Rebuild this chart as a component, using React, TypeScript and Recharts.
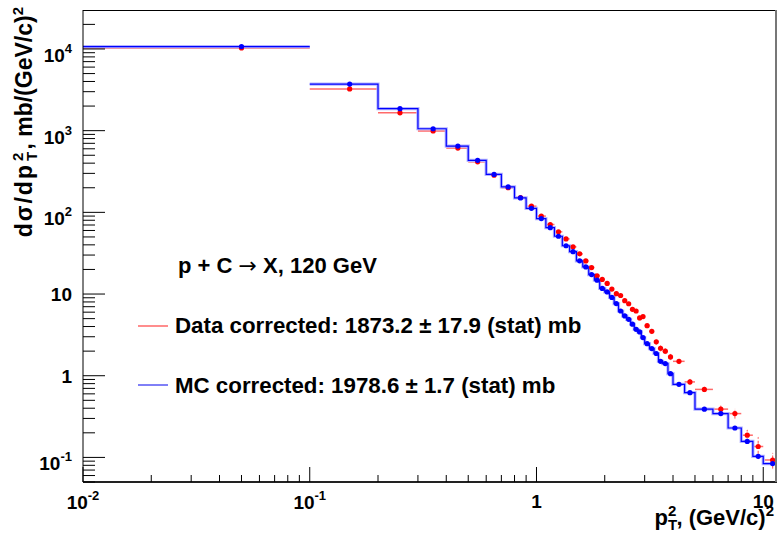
import React from 'react';
import { ComposedChart, Line, Scatter, XAxis, YAxis, ErrorBar } from 'recharts';

// ---- data ----
const binEdges = [
  0, 0.1, 0.2, 0.3, 0.4, 0.5, 0.6, 0.7, 0.8, 0.9, 1.0, 1.1, 1.2, 1.3, 1.4, 1.5, 1.6, 1.7, 1.8, 1.9,
  2.0, 2.1, 2.2, 2.3, 2.4, 2.5, 2.6, 2.7, 2.8, 2.9, 3.0, 3.15, 3.3, 3.45, 3.6, 3.8, 4.0, 4.5, 5, 6,
  7, 8, 9, 10, 12,
];
const mcValues = [
  10700, 3720, 1857, 1056, 647, 433, 291, 205, 150, 112, 84, 65, 51, 39, 33, 25.5, 21.5, 17.3, 14.8,
  11.7, 10.6, 9.1, 7.65, 6.2, 5.4, 4.9, 4.27, 3.7, 3.44, 2.93, 2.47, 2.15, 1.87, 1.5, 1.41, 1.06,
  0.785, 0.62, 0.39, 0.344, 0.229, 0.157, 0.103, 0.084,
];
const dataValues = [
  10300, 3240, 1655, 990, 612, 415, 285, 200, 152, 119, 90, 71, 57.7, 47.3, 37.8, 31, 25.4, 21.1,
  16.7, 15.1, 13.5, 11.5, 10.1, 9.6, 8.3, 7.6, 6.5, 6.2, 5.1, 5.3, 4.1, 3.5, 2.6, 2.17, 2.0, 1.7,
  1.5, 0.84, 0.68, 0.39, 0.344, 0.187, 0.136, 0.093,
];
const dataErrors = [
  60, 30, 20, 13, 9, 7, 5, 4, 3.3, 2.8, 2.3, 1.9, 1.6, 1.4, 1.2, 1.05, 0.9, 0.8, 0.7, 0.65, 0.6,
  0.55, 0.5, 0.46, 0.42, 0.39, 0.36, 0.34, 0.31, 0.3, 0.25, 0.22, 0.19, 0.17, 0.15, 0.14, 0.1, 0.07,
  0.05, 0.04, 0.045, 0.03, 0.04, 0.02,
];
const xMajorTicks = [0.01, 0.1, 1, 10];
const yMajorTicks = [0.1, 1, 10, 100, 1000, 10000];
const minorSteps = [2, 3, 4, 5, 6, 7, 8, 9];
const xDomain: [number, number] = [0.01, 11.5];
const yDomain: [number, number] = [0.05, 30000];

const titlePre = 'p + C ';
const titleArrow = '\u2192';
const titlePost = ' X, 120 GeV';
const dataLabel = 'Data corrected: 1873.2 \u00b1 17.9 (stat) mb';
const mcLabel = 'MC corrected: 1978.6 \u00b1 1.7 (stat) mb';

// ---- derived tables ----
const clampX = (v: number) => Math.min(Math.max(v, xDomain[0]), xDomain[1]);

const xTicks: number[] = [];
xMajorTicks.forEach((m, i) => {
  xTicks.push(m);
  if (i < xMajorTicks.length - 1) minorSteps.forEach((s) => xTicks.push(m * s));
});
const yTicks: number[] = [0.05, 0.06, 0.07, 0.08, 0.09];
yMajorTicks.forEach((m) => {
  yTicks.push(m);
  minorSteps.forEach((s) => {
    if (m * s < yDomain[1]) yTicks.push(m * s);
  });
});

// step histogram for MC (no vertical joining after first bin)
const histData: { x: number; mc: number | null }[] = [];
mcValues.forEach((v, i) => {
  histData.push({ x: clampX(binEdges[i]), mc: v });
  if (i === 0) {
    histData.push({ x: clampX(binEdges[1]), mc: v });
    histData.push({ x: clampX(binEdges[1]), mc: null });
  }
});
histData.push({ x: clampX(binEdges[binEdges.length - 1]), mc: mcValues[mcValues.length - 1] });

const centers = mcValues.map((_, i) => (binEdges[i] + binEdges[i + 1]) / 2);
const mcPoints = mcValues.map((v, i) => ({ x: centers[i], y: v }));
const dataPoints = dataValues.map((v, i) => ({
  x: centers[i],
  y: v,
  xerr: [centers[i] - clampX(binEdges[i]), clampX(binEdges[i + 1]) - centers[i]],
  yerr: dataErrors[i],
}));

// ---- layout constants ----
const W = 780;
const H = 535;
const PL = 83;
const PT = 10;
const PR = 777;
const PB = 482;
const FONT = "'Liberation Sans', Arial, Helvetica, sans-serif";

const isMajor = (v: number) => Math.abs(Math.log10(v) - Math.round(Math.log10(v))) < 1e-6;

function PowLabel({ x, y, e, anchor }: { x: number; y: number; e: number; anchor: string }) {
  if (e === 0 || e === 1) {
    return (
      <text x={x} y={y + 7} textAnchor={anchor} fontFamily={FONT} fontWeight="bold" fontSize={19} fill="#000">
        {e === 0 ? '1' : '10'}
      </text>
    );
  }
  return (
    <text x={x} y={y + 13} textAnchor={anchor} fontFamily={FONT} fontWeight="bold" fontSize={19} fill="#000">
      <tspan>10</tspan>
      <tspan dy={-9} fontSize={13}>{String(e)}</tspan>
    </text>
  );
}

function YTick(props: any) {
  const { y, payload } = props;
  const v = payload.value;
  const major = isMajor(v);
  const e = Math.round(Math.log10(v));
  return (
    <g>
      <line x1={PL} x2={PL + (major ? 22 : 12)} y1={y} y2={y} stroke="#000" strokeWidth={1} />
      {major && <PowLabel x={72} y={y} e={e} anchor="end" />}
    </g>
  );
}

function XTick(props: any) {
  const { x, payload } = props;
  const v = payload.value;
  const major = isMajor(v);
  const e = Math.round(Math.log10(v));
  return (
    <g>
      <line x1={x} x2={x} y1={PB} y2={PB - (major ? 15 : 7)} stroke="#000" strokeWidth={1} />
      {major && <PowLabel x={x} y={e === 0 || e === 1 ? 501 : 496} e={e} anchor="middle" />}
    </g>
  );
}

const RedDot = (p: any) => <circle cx={p.cx} cy={p.cy} r={2.6} fill="#ff0000" />;
const BlueDot = (p: any) => <circle cx={p.cx} cy={p.cy} r={2.6} fill="#0000ff" />;

export default function App() {
  return (
    <div style={{ position: 'absolute', left: 0, top: 0, width: W, height: H, background: '#fff' }}>
      <ComposedChart width={W} height={H} margin={{ top: PT, right: W - PR, left: 0, bottom: 0 }}>
        <XAxis
          dataKey="x"
          type="number"
          scale="log"
          domain={xDomain}
          allowDataOverflow
          ticks={xTicks}
          interval={0}
          height={H - PB}
          tickLine={false}
          axisLine={{ stroke: '#222', strokeWidth: 2 }}
          tick={<XTick />}
        />
        <YAxis
          type="number"
          scale="log"
          domain={yDomain}
          allowDataOverflow
          ticks={yTicks}
          interval={0}
          width={PL}
          tickLine={false}
          axisLine={{ stroke: '#000', strokeWidth: 1 }}
          tick={<YTick />}
        />
        <Scatter data={dataPoints} dataKey="y" shape={RedDot} isAnimationActive={false}>
          <ErrorBar dataKey="xerr" direction="x" width={0} stroke="#ff6a6a" strokeWidth={1.5} />
          <ErrorBar dataKey="yerr" direction="y" width={0} stroke="#ff6a6a" strokeWidth={1.2} strokeDasharray="3 2" />
        </Scatter>
        <Line
          data={histData}
          dataKey="mc"
          type="stepAfter"
          stroke="#b4b4ff"
          strokeWidth={3.2}
          dot={false}
          activeDot={false}
          connectNulls={false}
          isAnimationActive={false}
        />
        <Line
          data={histData}
          dataKey="mc"
          type="stepAfter"
          stroke="#0000ff"
          strokeWidth={1.2}
          dot={false}
          activeDot={false}
          connectNulls={false}
          isAnimationActive={false}
        />
        <Scatter data={mcPoints} dataKey="y" shape={BlueDot} isAnimationActive={false} />
      </ComposedChart>
      <svg
        width={W}
        height={H}
        style={{ position: 'absolute', left: 0, top: 0, pointerEvents: 'none' }}
      >
        <line x1={PL} x2={PR} y1={PT + 0.5} y2={PT + 0.5} stroke="#000" strokeWidth={1} />
        <line x1={PR - 1} x2={PR - 1} y1={PT} y2={PB} stroke="#777" strokeWidth={2} />
        {/* Y title */}
        <text
          transform={`translate(32, 7) rotate(-90)`}
          textAnchor="end"
          fontFamily={FONT}
          fontWeight="bold"
          fontSize={23}
          fill="#000"
        >
          <tspan letterSpacing={2}>d{'\u03c3'}/dp</tspan>
          <tspan dx={2} dy={5} fontSize={15}>T</tspan>
          <tspan dx={-9} dy={-14} fontSize={15}>2</tspan>
          <tspan dx={3} dy={9}>, mb/(GeV/c)</tspan>
          <tspan dy={-9} fontSize={15}>2</tspan>
        </text>
        {/* X title */}
        <text x={PR - 3} y={525} textAnchor="end" fontFamily={FONT} fontWeight="bold" fontSize={22} fill="#000">
          <tspan>p</tspan>
          <tspan dy={5} fontSize={15}>T</tspan>
          <tspan dx={-9} dy={-14} fontSize={15}>2</tspan>
          <tspan dy={9}>, (GeV/c)</tspan>
          <tspan dy={-9} fontSize={15}>2</tspan>
        </text>
        {/* annotation + legend */}
        <text x={178} y={273} fontFamily={FONT} fontWeight="bold" fontSize={22} fill="#000">
          <tspan>{titlePre}</tspan>
          <tspan fontFamily="'DejaVu Sans', sans-serif" fontWeight="normal">{titleArrow}</tspan>
          <tspan>{titlePost}</tspan>
        </text>
        <line x1={138} x2={168} y1={326} y2={326} stroke="#ff7070" strokeWidth={1.6} />
        <text x={175} y={333} fontFamily={FONT} fontWeight="bold" fontSize={22.3} fill="#000">
          {dataLabel}
        </text>
        <line x1={138} x2={168} y1={385} y2={385} stroke="#0000ee" strokeWidth={1} />
        <text x={175} y={393} fontFamily={FONT} fontWeight="bold" fontSize={22.3} fill="#000">
          {mcLabel}
        </text>
      </svg>
    </div>
  );
}
